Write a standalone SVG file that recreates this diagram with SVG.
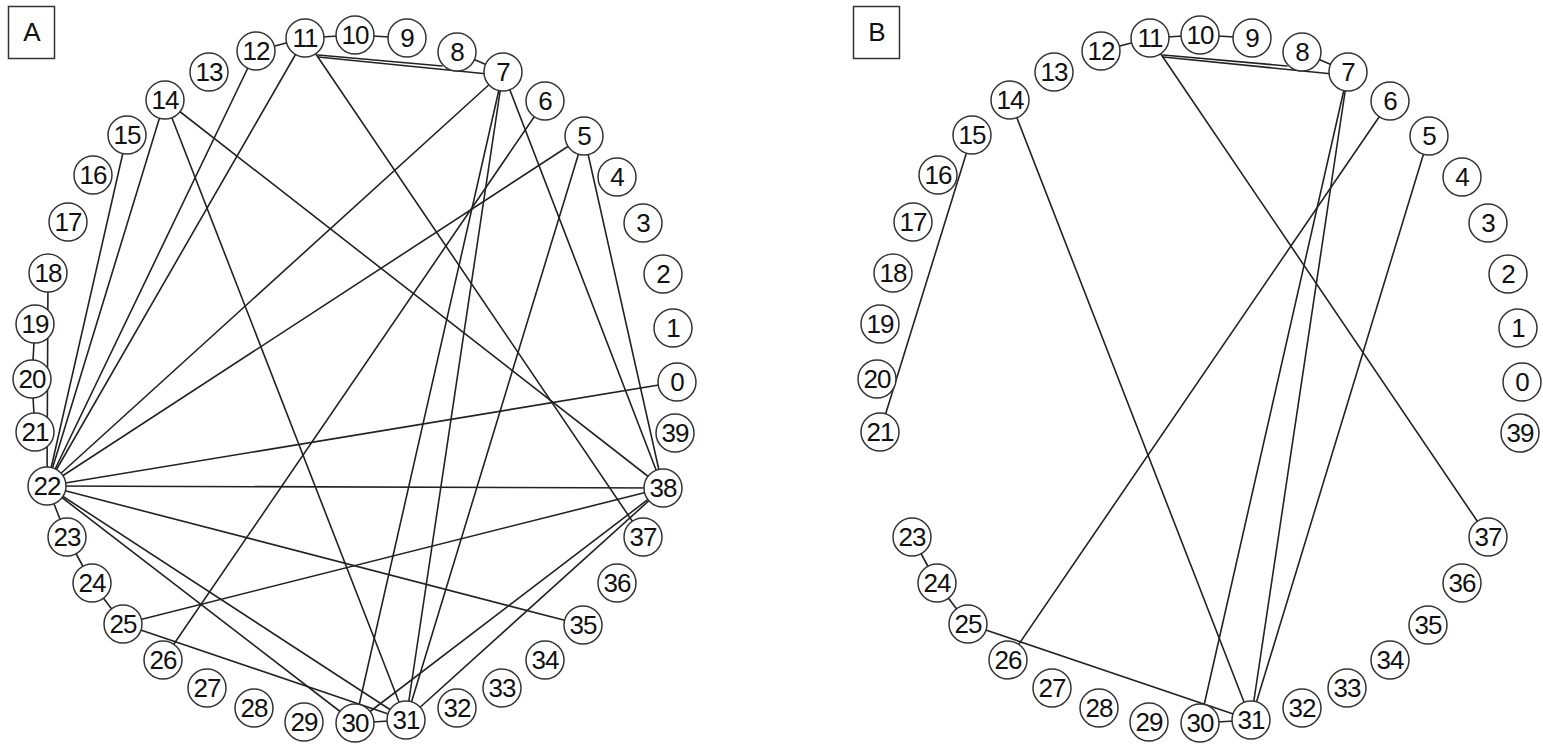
<svg xmlns="http://www.w3.org/2000/svg" width="1543" height="749" viewBox="0 0 1543 749">
<style>
.n circle{fill:#fff;stroke:#333;stroke-width:1.5}
.n text{font-family:"Liberation Sans",Arial,sans-serif;font-size:26px;fill:#111;text-anchor:middle;letter-spacing:-1px}
.e line{stroke:#222;stroke-width:1.6;stroke-linecap:round}
.lbl rect{fill:#fff;stroke:#333;stroke-width:1.5}
.lbl text{font-family:"Liberation Sans",Arial,sans-serif;font-size:26px;fill:#111;text-anchor:middle}
</style>
<rect width="1543" height="749" fill="#fff"/>
<g id="label-A" class="lbl"><rect x="8.5" y="6.5" width="46" height="52"/><text x="32" y="41">A</text></g>
<g id="label-B" class="lbl"><rect x="853.5" y="6.5" width="46" height="52"/><text x="877" y="41">B</text></g>

<g id="edges-A" class="e">
<line x1="256" y1="51" x2="305" y2="38"/>
<line x1="305" y1="38" x2="355" y2="35"/>
<line x1="355" y1="35" x2="407" y2="38"/>
<line x1="318" y1="55" x2="442" y2="66"/>
<line x1="318" y1="57" x2="488" y2="74"/>
<line x1="457" y1="52" x2="503" y2="72"/>
<line x1="47" y1="486" x2="165" y2="100"/>
<line x1="47" y1="486" x2="127" y2="135"/>
<line x1="47" y1="486" x2="256" y2="51"/>
<line x1="47" y1="486" x2="305" y2="38"/>
<line x1="47" y1="486" x2="503" y2="72"/>
<line x1="47" y1="486" x2="584" y2="136"/>
<line x1="47" y1="486" x2="677" y2="382"/>
<line x1="47" y1="486" x2="663" y2="488"/>
<line x1="47" y1="486" x2="583" y2="625"/>
<line x1="47" y1="486" x2="355" y2="723"/>
<line x1="47" y1="486" x2="406" y2="720"/>
<line x1="48" y1="273" x2="47" y2="486"/>
<line x1="47" y1="486" x2="67" y2="537"/>
<line x1="67" y1="537" x2="92" y2="583"/>
<line x1="92" y1="583" x2="123" y2="624"/>
<line x1="35" y1="324" x2="32" y2="379"/>
<line x1="32" y1="379" x2="35" y2="432"/>
<line x1="165" y1="100" x2="406" y2="720"/>
<line x1="165" y1="100" x2="663" y2="488"/>
<line x1="305" y1="38" x2="643" y2="537"/>
<line x1="503" y1="72" x2="406" y2="720"/>
<line x1="503" y1="72" x2="355" y2="723"/>
<line x1="503" y1="72" x2="663" y2="488"/>
<line x1="545" y1="101" x2="163" y2="660"/>
<line x1="584" y1="136" x2="406" y2="720"/>
<line x1="584" y1="136" x2="663" y2="488"/>
<line x1="123" y1="624" x2="663" y2="488"/>
<line x1="123" y1="624" x2="406" y2="720"/>
<line x1="355" y1="723" x2="406" y2="720"/>
<line x1="663" y1="488" x2="406" y2="720"/>
<line x1="663" y1="488" x2="355" y2="723"/>
</g>

<g id="edges-B" class="e">
<line x1="1101" y1="51" x2="1150" y2="38"/>
<line x1="1150" y1="38" x2="1200" y2="35"/>
<line x1="1200" y1="35" x2="1252" y2="38"/>
<line x1="1163" y1="55" x2="1287" y2="66"/>
<line x1="1163" y1="57" x2="1333" y2="74"/>
<line x1="1302" y1="52" x2="1348" y2="72"/>
<line x1="1150" y1="38" x2="1488" y2="537"/>
<line x1="1010" y1="100" x2="1251" y2="720"/>
<line x1="1390" y1="101" x2="1008" y2="660"/>
<line x1="1348" y1="72" x2="1200" y2="723"/>
<line x1="1348" y1="72" x2="1251" y2="720"/>
<line x1="1429" y1="136" x2="1251" y2="720"/>
<line x1="972" y1="135" x2="880" y2="432"/>
<line x1="912" y1="537" x2="937" y2="583"/>
<line x1="937" y1="583" x2="968" y2="624"/>
<line x1="968" y1="624" x2="1251" y2="720"/>
<line x1="1200" y1="723" x2="1251" y2="720"/>
</g>

<g id="nodes-A">
<g id="a0" class="n"><circle cx="677" cy="382" r="19"/><text x="677" y="391">0</text></g>
<g id="a1" class="n"><circle cx="673" cy="328" r="19"/><text x="673" y="337">1</text></g>
<g id="a2" class="n"><circle cx="663" cy="274" r="19"/><text x="663" y="283">2</text></g>
<g id="a3" class="n"><circle cx="643" cy="223" r="19"/><text x="643" y="232">3</text></g>
<g id="a4" class="n"><circle cx="617" cy="177" r="19"/><text x="617" y="186">4</text></g>
<g id="a5" class="n"><circle cx="584" cy="136" r="19"/><text x="584" y="145">5</text></g>
<g id="a6" class="n"><circle cx="545" cy="101" r="19"/><text x="545" y="110">6</text></g>
<g id="a7" class="n"><circle cx="503" cy="72" r="19"/><text x="503" y="81">7</text></g>
<g id="a8" class="n"><circle cx="457" cy="52" r="19"/><text x="457" y="61">8</text></g>
<g id="a9" class="n"><circle cx="407" cy="38" r="19"/><text x="407" y="47">9</text></g>
<g id="a10" class="n"><circle cx="355" cy="35" r="19"/><text x="355" y="44">10</text></g>
<g id="a11" class="n"><circle cx="305" cy="38" r="19"/><text x="305" y="47">11</text></g>
<g id="a12" class="n"><circle cx="256" cy="51" r="19"/><text x="256" y="60">12</text></g>
<g id="a13" class="n"><circle cx="209" cy="72" r="19"/><text x="209" y="81">13</text></g>
<g id="a14" class="n"><circle cx="165" cy="100" r="19"/><text x="165" y="109">14</text></g>
<g id="a15" class="n"><circle cx="127" cy="135" r="19"/><text x="127" y="144">15</text></g>
<g id="a16" class="n"><circle cx="93" cy="175" r="19"/><text x="93" y="184">16</text></g>
<g id="a17" class="n"><circle cx="68" cy="222" r="19"/><text x="68" y="231">17</text></g>
<g id="a18" class="n"><circle cx="48" cy="273" r="19"/><text x="48" y="282">18</text></g>
<g id="a19" class="n"><circle cx="35" cy="324" r="19"/><text x="35" y="333">19</text></g>
<g id="a20" class="n"><circle cx="32" cy="379" r="19"/><text x="32" y="388">20</text></g>
<g id="a21" class="n"><circle cx="35" cy="432" r="19"/><text x="35" y="441">21</text></g>
<g id="a22" class="n"><circle cx="47" cy="486" r="19"/><text x="47" y="495">22</text></g>
<g id="a23" class="n"><circle cx="67" cy="537" r="19"/><text x="67" y="546">23</text></g>
<g id="a24" class="n"><circle cx="92" cy="583" r="19"/><text x="92" y="592">24</text></g>
<g id="a25" class="n"><circle cx="123" cy="624" r="19"/><text x="123" y="633">25</text></g>
<g id="a26" class="n"><circle cx="163" cy="660" r="19"/><text x="163" y="669">26</text></g>
<g id="a27" class="n"><circle cx="207" cy="688" r="19"/><text x="207" y="697">27</text></g>
<g id="a28" class="n"><circle cx="254" cy="708" r="19"/><text x="254" y="717">28</text></g>
<g id="a29" class="n"><circle cx="304" cy="722" r="19"/><text x="304" y="731">29</text></g>
<g id="a30" class="n"><circle cx="355" cy="723" r="19"/><text x="355" y="732">30</text></g>
<g id="a31" class="n"><circle cx="406" cy="720" r="19"/><text x="406" y="729">31</text></g>
<g id="a32" class="n"><circle cx="457" cy="708" r="19"/><text x="457" y="717">32</text></g>
<g id="a33" class="n"><circle cx="502" cy="688" r="19"/><text x="502" y="697">33</text></g>
<g id="a34" class="n"><circle cx="545" cy="660" r="19"/><text x="545" y="669">34</text></g>
<g id="a35" class="n"><circle cx="583" cy="625" r="19"/><text x="583" y="634">35</text></g>
<g id="a36" class="n"><circle cx="617" cy="583" r="19"/><text x="617" y="592">36</text></g>
<g id="a37" class="n"><circle cx="643" cy="537" r="19"/><text x="643" y="546">37</text></g>
<g id="a38" class="n"><circle cx="663" cy="488" r="19"/><text x="663" y="497">38</text></g>
<g id="a39" class="n"><circle cx="675" cy="433" r="19"/><text x="675" y="442">39</text></g>
</g>

<g id="nodes-B">
<g id="b0" class="n"><circle cx="1522" cy="382" r="19"/><text x="1522" y="391">0</text></g>
<g id="b1" class="n"><circle cx="1518" cy="328" r="19"/><text x="1518" y="337">1</text></g>
<g id="b2" class="n"><circle cx="1508" cy="274" r="19"/><text x="1508" y="283">2</text></g>
<g id="b3" class="n"><circle cx="1488" cy="223" r="19"/><text x="1488" y="232">3</text></g>
<g id="b4" class="n"><circle cx="1462" cy="177" r="19"/><text x="1462" y="186">4</text></g>
<g id="b5" class="n"><circle cx="1429" cy="136" r="19"/><text x="1429" y="145">5</text></g>
<g id="b6" class="n"><circle cx="1390" cy="101" r="19"/><text x="1390" y="110">6</text></g>
<g id="b7" class="n"><circle cx="1348" cy="72" r="19"/><text x="1348" y="81">7</text></g>
<g id="b8" class="n"><circle cx="1302" cy="52" r="19"/><text x="1302" y="61">8</text></g>
<g id="b9" class="n"><circle cx="1252" cy="38" r="19"/><text x="1252" y="47">9</text></g>
<g id="b10" class="n"><circle cx="1200" cy="35" r="19"/><text x="1200" y="44">10</text></g>
<g id="b11" class="n"><circle cx="1150" cy="38" r="19"/><text x="1150" y="47">11</text></g>
<g id="b12" class="n"><circle cx="1101" cy="51" r="19"/><text x="1101" y="60">12</text></g>
<g id="b13" class="n"><circle cx="1054" cy="72" r="19"/><text x="1054" y="81">13</text></g>
<g id="b14" class="n"><circle cx="1010" cy="100" r="19"/><text x="1010" y="109">14</text></g>
<g id="b15" class="n"><circle cx="972" cy="135" r="19"/><text x="972" y="144">15</text></g>
<g id="b16" class="n"><circle cx="938" cy="175" r="19"/><text x="938" y="184">16</text></g>
<g id="b17" class="n"><circle cx="913" cy="222" r="19"/><text x="913" y="231">17</text></g>
<g id="b18" class="n"><circle cx="893" cy="273" r="19"/><text x="893" y="282">18</text></g>
<g id="b19" class="n"><circle cx="880" cy="324" r="19"/><text x="880" y="333">19</text></g>
<g id="b20" class="n"><circle cx="877" cy="379" r="19"/><text x="877" y="388">20</text></g>
<g id="b21" class="n"><circle cx="880" cy="432" r="19"/><text x="880" y="441">21</text></g>
<g id="b23" class="n"><circle cx="912" cy="537" r="19"/><text x="912" y="546">23</text></g>
<g id="b24" class="n"><circle cx="937" cy="583" r="19"/><text x="937" y="592">24</text></g>
<g id="b25" class="n"><circle cx="968" cy="624" r="19"/><text x="968" y="633">25</text></g>
<g id="b26" class="n"><circle cx="1008" cy="660" r="19"/><text x="1008" y="669">26</text></g>
<g id="b27" class="n"><circle cx="1052" cy="688" r="19"/><text x="1052" y="697">27</text></g>
<g id="b28" class="n"><circle cx="1099" cy="708" r="19"/><text x="1099" y="717">28</text></g>
<g id="b29" class="n"><circle cx="1149" cy="722" r="19"/><text x="1149" y="731">29</text></g>
<g id="b30" class="n"><circle cx="1200" cy="723" r="19"/><text x="1200" y="732">30</text></g>
<g id="b31" class="n"><circle cx="1251" cy="720" r="19"/><text x="1251" y="729">31</text></g>
<g id="b32" class="n"><circle cx="1302" cy="708" r="19"/><text x="1302" y="717">32</text></g>
<g id="b33" class="n"><circle cx="1347" cy="688" r="19"/><text x="1347" y="697">33</text></g>
<g id="b34" class="n"><circle cx="1390" cy="660" r="19"/><text x="1390" y="669">34</text></g>
<g id="b35" class="n"><circle cx="1428" cy="625" r="19"/><text x="1428" y="634">35</text></g>
<g id="b36" class="n"><circle cx="1462" cy="583" r="19"/><text x="1462" y="592">36</text></g>
<g id="b37" class="n"><circle cx="1488" cy="537" r="19"/><text x="1488" y="546">37</text></g>
<g id="b39" class="n"><circle cx="1520" cy="433" r="19"/><text x="1520" y="442">39</text></g>
</g>
</svg>
